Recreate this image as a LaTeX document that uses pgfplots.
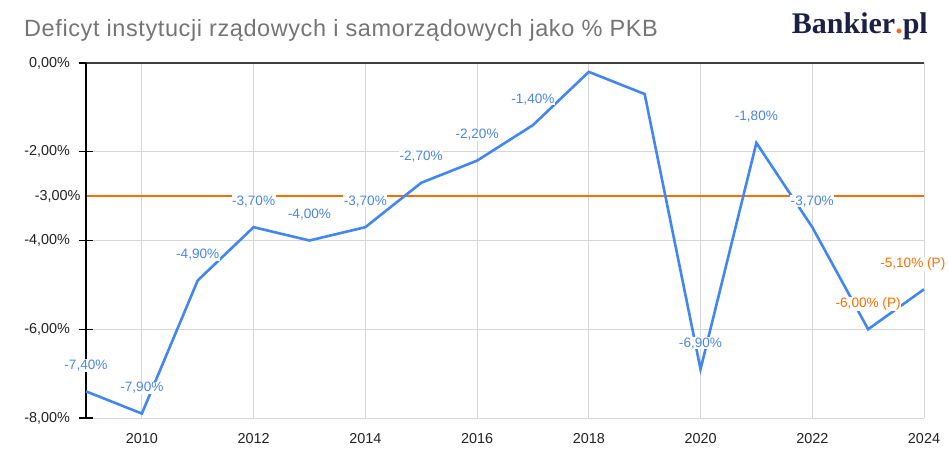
\documentclass[border=0pt]{standalone}
\usepackage{fontspec}
\setmainfont{Liberation Sans}
\newfontfamily\logofont{Liberation Serif}
\newfontfamily\titlefont[LetterSpace=2.5]{Liberation Sans}
\usepackage{pgfplots}
\pgfplotsset{compat=1.18}
\definecolor{lineblue}{HTML}{4285F4}
\definecolor{labblue}{HTML}{4A86E8}
\definecolor{gorange}{HTML}{FF6D01}
\definecolor{gridgray}{HTML}{D6D6D6}
\definecolor{titlegray}{HTML}{757575}
\definecolor{ticktext}{HTML}{222222}
\definecolor{logonavy}{HTML}{1C2143}
\definecolor{logodot}{HTML}{F26A21}
\begin{document}
\begin{tikzpicture}
\path[use as bounding box] (-86bp,-34bp) rectangle (862bp,418bp);
\begin{axis}[
  at={(0,0)}, anchor=south west,
  scale only axis, width=838bp, height=355bp,
  xmin=2009, xmax=2024, ymin=-8, ymax=0,
  clip=false,
  axis line style={draw=none},
  xtick={2010,2012,2014,2016,2018,2020,2022,2024},
  xticklabels={2010,2012,2014,2016,2018,2020,2022,2024},
  ytick={-8,-6,-4,-2,0},
  yticklabels={{-8,00\%},{-6,00\%},{-4,00\%},{-2,00\%},{0,00\%}},
  extra y ticks={-3},
  extra y tick style={major tick length=0pt, grid=none,
    yticklabel={-3{,}00\%}, yticklabel style={xshift=3bp}},
  grid=major,
  major grid style={gridgray, line width=1bp},
  tick align=center,
  ytick pos=left, xtick pos=bottom,
  major tick length=15bp,
  xtick style={draw=none},
  ytick style={black, line width=1.2bp},
  tick label style={font=\fontsize{14.4bp}{16bp}\selectfont, text=ticktext},
  xticklabel style={yshift=-4bp},
  yticklabel style={xshift=-5bp},
]
\draw[gorange, line width=1.4bp] (axis cs:2009,-3) -- (axis cs:2024,-3);
\draw[black!75, line width=1.2bp] (axis cs:2009,0) -- (axis cs:2024,0);
\draw[black, line width=1.2bp] (axis cs:2009,-8) -- (axis cs:2009,0);
\addplot[lineblue, line width=2.6bp, mark=none] table[x=year, y=val] {
year val
2009 -7.4
2010 -7.9
2011 -4.9
2012 -3.7
2013 -4.0
2014 -3.7
2015 -2.7
2016 -2.2
2017 -1.4
2018 -0.2
2019 -0.7
2020 -6.9
2021 -1.8
2022 -3.7
2023 -6.0
2024 -5.1
};
\addplot[draw=none, mark=none, nodes near coords, point meta=explicit symbolic,
  every node near coord/.append style={anchor=base, yshift=22bp, fill=white, inner sep=0.5bp,
    text=labblue, font=\fontsize{13.6bp}{15bp}\selectfont}]
  table[x=year, y=val, meta=lab] {
year val lab
2009 -7.4 -7,40\%
2010 -7.9 -7,90\%
2011 -4.9 -4,90\%
2012 -3.7 -3,70\%
2013 -4.0 -4,00\%
2014 -3.7 -3,70\%
2015 -2.7 -2,70\%
2016 -2.2 -2,20\%
2017 -1.4 -1,40\%
2020 -6.9 -6,90\%
2021 -1.8 -1,80\%
2022 -3.7 -3,70\%
};
\addplot[draw=none, mark=none, nodes near coords, point meta=explicit symbolic,
  every node near coord/.append style={anchor=base, yshift=22bp, fill=white, inner sep=0.5bp,
    text=gorange, font=\fontsize{13.6bp}{15bp}\selectfont}]
  table[x=year, y=val, meta=lab] {
year val lab
2023 -6.0 {-6,00\% (P)}
};
\addplot[draw=none, mark=none, nodes near coords, point meta=explicit symbolic,
  every node near coord/.append style={anchor=base east, yshift=22bp, xshift=22bp, fill=white, inner sep=0.5bp,
    text=gorange, font=\fontsize{13.6bp}{15bp}\selectfont}]
  table[x=year, y=val, meta=lab] {
year val lab
2024 -5.1 {-5,10\% (P)}
};
\end{axis}
\node[anchor=base west, inner sep=0pt, text=titlegray, font=\titlefont\fontsize{23.5bp}{26bp}\selectfont]
  at (-62bp,381bp) {Deficyt instytucji rządowych i samorządowych jako \% PKB};
\node[anchor=base east, inner sep=0pt, text=logonavy, font=\logofont\bfseries\fontsize{30bp}{32bp}\selectfont]
  at (842bp,384bp) {Bankier\textcolor{logodot}{.}pl};
\end{tikzpicture}
\end{document}
